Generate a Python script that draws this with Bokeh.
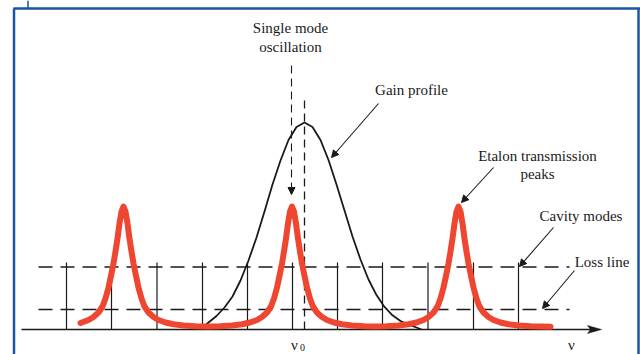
from bokeh.plotting import figure
from bokeh.models import Range1d, Arrow, NormalHead, Label
from bokeh.embed import file_html
from bokeh.resources import INLINE

# ---- data (x = frequency position, h = height above the baseline) ----
cavity_modes = [66, 111, 156.5, 202, 247, 292, 337, 382, 427.5, 473, 518]
cavity_mode_height = 67
loss_levels = [62.5, 20]
loss_start, loss_end = 38, 569
nu0 = 304
nu0_height = 232
oscillation_mode = 292

gain_nu = [200, 208, 216, 224, 232, 240, 248, 256, 264, 272, 280, 288, 296, 304,
           312, 320, 328, 336, 344, 352, 360, 368, 376, 384, 392, 400, 408, 416, 421]
gain_h = [0, 7, 13.5, 22, 33, 49, 69, 92, 118, 145, 169, 189.5, 202.5, 207,
          202.5, 189.5, 169.5, 145, 119, 93, 70, 50, 34.4, 22.6, 14.2, 8.5, 4.9, 2, 0]

peak1_nu = [80, 88, 93, 98, 102, 105, 108, 111, 113, 115, 117, 119, 121, 123, 125, 127,
            129, 131, 133, 135, 138, 141, 144, 148, 153, 158, 165, 173, 183, 195, 207]
peak1_h = [6.5, 9.5, 12.5, 17, 23, 31, 42, 56, 66, 78, 91, 106, 118, 123, 118, 106,
           91, 78, 66, 56, 42, 31, 23, 17, 12.5, 9.5, 7, 5.2, 4, 3.3, 3]
peak2_nu = [219.5, 231.5, 241.5, 249.5, 256.5, 261.5, 266.5, 270.5, 273.5, 276.5, 279.5,
            281.5, 283.5, 285.5, 287.5, 289.5, 291.5, 293.5, 295.5, 297.5, 299.5, 301.5,
            303.5, 306.5, 309.5, 312.5, 316.5, 321.5, 326.5, 333.5, 341.5, 351.5, 363.5, 375]
peak2_h = [3.3, 4, 5.2, 7, 9.5, 12.5, 17, 23, 31, 42, 56, 66, 78, 91, 106, 118, 123,
           118, 106, 91, 78, 66, 56, 42, 31, 23, 17, 12.5, 9.5, 7, 5.2, 4, 3.3, 3]
peak3_nu = [386, 398, 408, 416, 423, 428, 433, 437, 440, 443, 446, 448, 450, 452, 454,
            456, 458, 460, 462, 464, 466, 468, 470, 473, 476, 479, 483, 488, 493, 500,
            508, 518, 530, 550]
peak3_h = [3.3, 4, 5.2, 7, 9.5, 12.5, 17, 23, 31, 42, 56, 66, 78, 91, 106, 118, 123,
           118, 106, 91, 78, 66, 56, 42, 31, 23, 17, 12.5, 9.5, 7, 5.2, 4, 3.3, 2.8]

axis_start, axis_end = 21, 601

etalon_nu = peak1_nu + peak2_nu + peak3_nu
etalon_h = peak1_h + peak2_h + peak3_h

FONT = "Liberation Serif"
INK = "#1a1a1a"
RED = "#ef4631"
BLUE = "#1b55a5"

p = figure(width=640, height=354, output_backend="svg", toolbar_location=None,
           x_range=Range1d(0, 640), y_range=Range1d(-25, 329),
           x_axis_type=None, y_axis_type=None, min_border=0,
           outline_line_color=None, background_fill_color="white",
           border_fill_color="white")
p.grid.visible = False

# frame borders
p.segment(x0=[13, 13.5, 638], y0=[321, 321, 321], x1=[640, 13.5, 638],
          y1=[321, -25, -25], line_color=BLUE, line_width=2.5)
p.segment(x0=[27.5], y0=[329], x1=[27.5], y1=[321], line_color=BLUE, line_width=1.5)

# cavity modes
p.segment(x0=cavity_modes, y0=[0] * len(cavity_modes), x1=cavity_modes,
          y1=[cavity_mode_height] * len(cavity_modes), line_color=INK, line_width=1.2)

# loss lines
for lv in loss_levels:
    p.line([loss_start, loss_end], [lv, lv], line_color=INK, line_width=1.3,
           line_dash="14 8")

# frequency axis
p.line([axis_start, axis_end - 10], [0, 0], line_color=INK, line_width=1.5)
p.patch([axis_end - 14, axis_end, axis_end - 14, axis_end - 11], [4, 0, -4, 0],
        fill_color=INK, line_color=INK, line_width=0.5)

# nu0 dashed line
p.line([nu0, nu0], [0, nu0_height], line_color=INK, line_width=1.3, line_dash="8 5")

# gain profile
p.line(gain_nu, gain_h, line_color=INK, line_width=1.8, line_join="round")

# etalon transmission
p.line(etalon_nu, etalon_h, line_color=RED, line_width=6, line_join="round",
       line_cap="round")

# annotation arrows
def arrow(x0, y0, x1, y1, dash="solid"):
    p.add_layout(Arrow(x_start=x0, y_start=y0, x_end=x1, y_end=y1,
                       line_color=INK, line_width=1.1, line_dash=dash,
                       end=NormalHead(size=7, fill_color=INK, line_color=INK,
                                      line_width=1)))

arrow(oscillation_mode - 1, 264, oscillation_mode - 1, 135, dash="8 5")
arrow(378, 226, 331, 172)
arrow(493, 162, 461, 127)
arrow(553, 102, 519, 63)
arrow(574, 59, 542, 21)

def label(x, y, t, size="15px", align="center", baseline="middle"):
    p.add_layout(Label(x=x, y=y, text=t, text_font=FONT, text_font_size=size,
                       text_color=INK, text_align=align, text_baseline=baseline))

label(290, 302, "Single mode")
label(290, 283, "oscillation")
label(411, 240, "Gain profile")
label(537, 174, "Etalon transmission")
label(537, 156, "peaks")
label(580.5, 114, "Cavity modes")
label(601.5, 67.5, "Loss line")
label(294, -15, "ν", size="15px")
label(302, -18, "0", size="10px")
label(571, -15, "ν", size="15px")

open("out.html", "w").write(file_html(p, INLINE))
